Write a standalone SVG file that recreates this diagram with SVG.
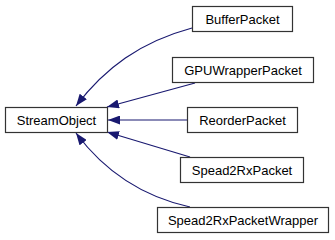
<svg xmlns="http://www.w3.org/2000/svg" width="335" height="240" viewBox="0 0 335 240">
  <style>
    .box { fill: #ffffff; stroke: #333333; stroke-width: 1.2; }
    .lbl { font-family: "Liberation Sans", Arial, sans-serif; font-size: 13px; fill: #000000; text-anchor: middle; }
    .edge { fill: none; stroke: #191970; stroke-width: 1.2; marker-end: url(#head); }
  </style>
  <defs>
    <marker id="head" markerUnits="userSpaceOnUse" markerWidth="12" markerHeight="9" refX="12" refY="4.5" orient="auto" viewBox="0 0 12 9">
      <path d="M0,0 L12,4.5 L0,9 z" fill="#191970"/>
    </marker>
  </defs>
  <rect width="335" height="240" fill="#ffffff"/>

  <!-- inheritance edges, drawn from derived class to base class -->
  <g id="edges">
    <path class="edge" d="M192,28 C140,42 105,68 76,106"/>
    <path class="edge" d="M195,83 L107,107"/>
    <path class="edge" d="M187,120 L108,120"/>
    <path class="edge" d="M190,157 L107,132"/>
    <path class="edge" d="M190,207 C140,196 102,168 76,133"/>
  </g>

  <g id="StreamObject">
    <rect class="box" x="5.5" y="107.5" width="102" height="25"/>
    <text class="lbl" x="56.5" y="124.5">StreamObject</text>
  </g>
  <g id="BufferPacket">
    <rect class="box" x="192.5" y="6.5" width="100" height="25"/>
    <text class="lbl" x="242.5" y="23.5">BufferPacket</text>
  </g>
  <g id="GPUWrapperPacket">
    <rect class="box" x="172.5" y="57.5" width="141" height="25"/>
    <text class="lbl" x="243" y="74.5">GPUWrapperPacket</text>
  </g>
  <g id="ReorderPacket">
    <rect class="box" x="187.5" y="107.5" width="110" height="25"/>
    <text class="lbl" x="242.5" y="124.5">ReorderPacket</text>
  </g>
  <g id="Spead2RxPacket">
    <rect class="box" x="180.5" y="157.5" width="123" height="25"/>
    <text class="lbl" x="242" y="174.5">Spead2RxPacket</text>
  </g>
  <g id="Spead2RxPacketWrapper">
    <rect class="box" x="157.5" y="207.5" width="171" height="25"/>
    <text class="lbl" x="243" y="224.5">Spead2RxPacketWrapper</text>
  </g>
</svg>
